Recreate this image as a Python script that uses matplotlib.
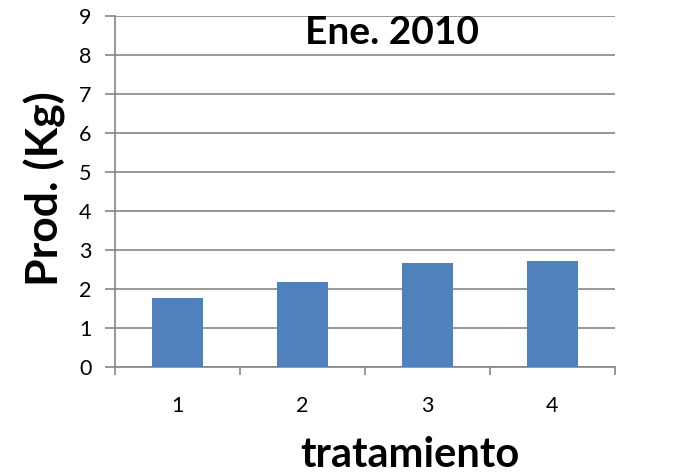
import matplotlib
matplotlib.use("Agg")
import matplotlib.pyplot as plt

categories = ["1", "2", "3", "4"]
values = [1.77, 2.18, 2.66, 2.73]
yticks = [0, 1, 2, 3, 4, 5, 6, 7, 8, 9]
title = "Ene. 2010"
xlabel = "tratamiento"
ylabel = "Prod. (Kg)"

plt.rcParams['font.family'] = ['Lato', 'DejaVu Sans']

fig = plt.figure(figsize=(7, 4.75), dpi=100)
ax = fig.add_axes([115/700, 1-367/475, 500/700, 351/475])

x = list(range(len(categories)))
ax.bar(x, values, width=0.41, color="#4F81BD", zorder=3)
ax.set_xlim(-0.5, len(categories) - 0.5)
ax.set_ylim(0, 9)
ax.set_yticks(yticks)
ax.set_yticklabels([str(v) for v in yticks], fontsize=15.5)
ax.set_xticks(x)
ax.set_xticklabels(categories, fontsize=15.5)
ax.tick_params(axis='x', length=0, pad=21)
ax.set_xticks([i - 0.5 for i in range(len(categories) + 1)], minor=True)
ax.tick_params(axis='x', which='minor', length=6, color="#868686", width=1.2)
ax.tick_params(axis='y', length=7, color="#868686", width=1.2, pad=10)

ax.grid(axis='y', color="#868686", linewidth=1.2, zorder=0)
for s in ['top', 'right']:
    ax.spines[s].set_visible(False)
for s in ['left', 'bottom']:
    ax.spines[s].set_color("#868686")
    ax.spines[s].set_linewidth(1.2)

fig.text(392/700, 1-32/475, title, ha='center', va='center', fontsize=28, fontweight='bold')
fig.text(410/700, 1-455/475, xlabel, ha='center', va='center', fontsize=30, fontweight='bold')
fig.text(45/700, 1-189/475, ylabel, ha='center', va='center', fontsize=32, fontweight='bold', rotation=90)

fig.savefig("out.png", dpi=100)
